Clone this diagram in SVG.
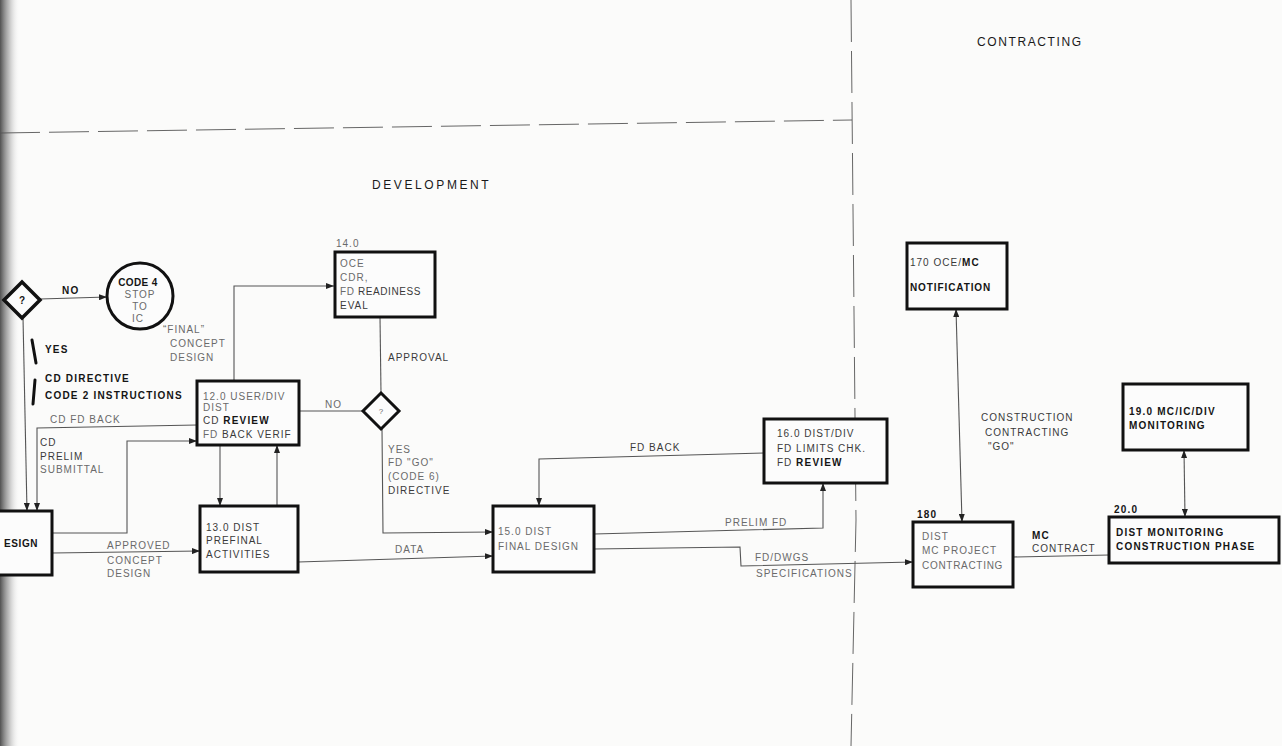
<svg xmlns="http://www.w3.org/2000/svg" width="1282" height="746" viewBox="0 0 1282 746">
<defs>
<linearGradient id="edge" x1="0" y1="0" x2="1" y2="0">
<stop offset="0" stop-color="#333" stop-opacity="0.85"/>
<stop offset="0.45" stop-color="#777" stop-opacity="0.45"/>
<stop offset="1" stop-color="#fff" stop-opacity="0"/>
</linearGradient>
<marker id="ah" viewBox="0 0 8 6" refX="8" refY="3" markerWidth="8" markerHeight="6" markerUnits="userSpaceOnUse" orient="auto-start-reverse">
<path d="M0,0 L8,3 L0,6 z" fill="#222"/>
</marker>
<style>
.t{font-family:"Liberation Sans",Arial,sans-serif;font-size:10px;letter-spacing:1px;fill:#3a3a3a}
.b{font-weight:bold;fill:#151515;letter-spacing:1.2px}
.f{fill:#6a6a6a}
.h{font-family:"Liberation Sans",Arial,sans-serif;font-size:12px;letter-spacing:1.6px;fill:#1a1a1a}
.box{fill:#fcfcfc;stroke:#111;stroke-width:3}
.c{fill:none;stroke:#555;stroke-width:1.1}
.a{marker-end:url(#ah)}
.aa{marker-start:url(#ah);marker-end:url(#ah)}
.div{fill:none;stroke:#555;stroke-width:0.9}
</style>
</defs>
<rect x="0" y="0" width="1282" height="746" fill="#fbfbfa"/>
<rect x="0" y="0" width="20" height="746" fill="url(#edge)"/>

<g id="dividers">
<path class="div" d="M0,133 L852,120" stroke-dasharray="40 9"/>
<path class="div" d="M851,0 L856,520 L851,746" stroke-dasharray="42 9"/>
</g>

<g id="titles">
<text class="h" x="977" y="46">CONTRACTING</text>
<text class="h" x="372" y="189" style="letter-spacing:2.6px">DEVELOPMENT</text>
</g>

<g id="connectors">
<path class="c a" d="M40,299 L107,297"/>
<path class="c a" d="M23,317 L27,511"/>
<path class="c a" d="M197,425 L37,428 L37,511"/>
<path class="c a" d="M52,533 L127,533 L127,441 L197,441"/>
<path class="c a" d="M52,553 L200,551"/>
<path class="c a" d="M234,381 L234,286 L334,286"/>
<path class="c a" d="M220,445 L220,506"/>
<path class="c a" d="M277,506 L277,445"/>
<path class="c" d="M380,317 L381,393"/>
<path class="c" d="M299,411 L363,411"/>
<path class="c a" d="M382,429 L383,533 L493,532"/>
<path class="c a" d="M298,562 L493,556"/>
<path class="c a" d="M764,453 L539,459 L539,506"/>
<path class="c a" d="M594,534 L823,528 L823,483"/>
<path class="c a" d="M594,549 L740,547 L741,566 L913,562"/>
<path class="c aa" d="M956,309 L962,522"/>
<path class="c aa" d="M1184,450 L1185,517"/>
<path class="c" d="M1013,557 L1109,555"/>
<path d="M32,340 L36,363" fill="none" stroke="#111" stroke-width="3" stroke-linecap="round"/>
<path d="M35,380 L33,404" fill="none" stroke="#111" stroke-width="3" stroke-linecap="round"/>
</g>

<g id="labels">
<text class="t b" x="62" y="294">NO</text>
<text class="t f" x="163" y="333">“FINAL”</text>
<text class="t f" x="170" y="347">CONCEPT</text>
<text class="t f" x="170" y="361">DESIGN</text>
<text class="t b" x="45" y="353">YES</text>
<text class="t b" x="45" y="382">CD DIRECTIVE</text>
<text class="t b" x="45" y="399">CODE 2 INSTRUCTIONS</text>
<text class="t f" x="50" y="423">CD  FD  BACK</text>
<text class="t" x="40" y="446">CD</text>
<text class="t" x="40" y="460">PRELIM</text>
<text class="t f" x="40" y="473">SUBMITTAL</text>
<text class="t f" x="107" y="549">APPROVED</text>
<text class="t f" x="107" y="564">CONCEPT</text>
<text class="t f" x="107" y="577">DESIGN</text>
<text class="t" x="388" y="361">APPROVAL</text>
<text class="t f" x="325" y="408">NO</text>
<text class="t f" x="388" y="453">YES</text>
<text class="t f" x="388" y="466">FD "GO"</text>
<text class="t f" x="388" y="480">(CODE 6)</text>
<text class="t" x="388" y="494">DIRECTIVE</text>
<text class="t f" x="395" y="553">DATA</text>
<text class="t" x="630" y="451">FD BACK</text>
<text class="t f" x="725" y="526">PRELIM FD</text>
<text class="t f" x="755" y="561">FD/DWGS</text>
<text class="t f" x="756" y="577">SPECIFICATIONS</text>
<text class="t" x="981" y="421">CONSTRUCTION</text>
<text class="t" x="985" y="436">CONTRACTING</text>
<text class="t" x="988" y="450">"GO"</text>
<text class="t b" x="1032" y="539">MC</text>
<text class="t" x="1032" y="552">CONTRACT</text>
</g>

<g id="n-decision1">
<polygon points="22,282 40,300 22,318 4,300" fill="#fcfcfc" stroke="#111" stroke-width="3.5"/>
<text class="t b" x="22" y="304" text-anchor="middle" style="letter-spacing:0">?</text>
</g>

<g id="n-code4">
<circle cx="140" cy="296" r="33" fill="#fcfcfc" stroke="#111" stroke-width="3"/>
<text class="t b" x="138" y="286" text-anchor="middle" style="letter-spacing:0.4px">CODE 4</text>
<text class="t f" x="140" y="298" text-anchor="middle">STOP</text>
<text class="t f" x="140" y="310" text-anchor="middle">TO</text>
<text class="t f" x="138" y="322" text-anchor="middle">IC</text>
</g>

<g id="n-design">
<rect class="box" x="-5" y="511" width="57" height="64"/>
<text class="t b" x="4" y="547" style="letter-spacing:0.6px">ESIGN</text>
</g>

<g id="n-12">
<rect class="box" x="197" y="381" width="102" height="64"/>
<text class="t f" x="203" y="400">12.0 USER/DIV</text>
<text class="t f" x="203" y="411">DIST</text>
<text class="t" x="203" y="424">CD  <tspan class="b">REVIEW</tspan></text>
<text class="t" x="203" y="438"><tspan class="f">FD</tspan>  BACK VERIF</text>
</g>

<g id="n-13">
<rect class="box" x="200" y="506" width="98" height="66"/>
<text class="t" x="206" y="531">13.0 DIST</text>
<text class="t" x="206" y="544">PREFINAL</text>
<text class="t" x="206" y="558">ACTIVITIES</text>
</g>

<g id="n-14">
<text class="t f" x="336" y="247">14.0</text>
<rect class="box" x="335" y="252" width="100" height="65"/>
<text class="t f" x="340" y="267">OCE</text>
<text class="t f" x="340" y="281">CDR,</text>
<text class="t" x="340" y="295" style="letter-spacing:0.6px"><tspan class="f">FD</tspan>  READINESS</text>
<text class="t" x="340" y="309">EVAL</text>
</g>

<g id="n-decision2">
<polygon points="381,393 399,411 381,429 363,411" fill="#fcfcfc" stroke="#111" stroke-width="3"/>
<text class="t f" x="381" y="414" text-anchor="middle" style="font-size:8px;letter-spacing:0">?</text>
</g>

<g id="n-15">
<rect class="box" x="493" y="506" width="101" height="66"/>
<text class="t f" x="498" y="535">15.0 DIST</text>
<text class="t f" x="498" y="550">FINAL  DESIGN</text>
</g>

<g id="n-16">
<rect class="box" x="764" y="419" width="123" height="64"/>
<text class="t" x="777" y="437">16.0 DIST/DIV</text>
<text class="t" x="777" y="452">FD LIMITS CHK.</text>
<text class="t" x="777" y="466">FD  <tspan class="b">REVIEW</tspan></text>
</g>

<g id="n-17">
<rect class="box" x="907" y="243" width="100" height="66"/>
<text class="t" x="910" y="266">170 OCE/<tspan class="b">MC</tspan></text>
<text class="t b" x="910" y="291" style="letter-spacing:0.9px">NOTIFICATION</text>
</g>

<g id="n-18">
<text class="t b" x="917" y="518">180</text>
<rect class="box" x="913" y="522" width="100" height="65"/>
<text class="t f" x="922" y="540">DIST</text>
<text class="t f" x="922" y="554">MC PROJECT</text>
<text class="t f" x="922" y="569" style="letter-spacing:0.7px">CONTRACTING</text>
</g>

<g id="n-19">
<rect class="box" x="1123" y="384" width="125" height="66"/>
<text class="t b" x="1129" y="415">19.0 MC/IC/DIV</text>
<text class="t b" x="1129" y="429">MONITORING</text>
</g>

<g id="n-20">
<text class="t b" x="1114" y="513">20.0</text>
<rect class="box" x="1109" y="517" width="170" height="46"/>
<text class="t b" x="1116" y="536">DIST  MONITORING</text>
<text class="t b" x="1116" y="550">CONSTRUCTION  PHASE</text>
</g>
</svg>
